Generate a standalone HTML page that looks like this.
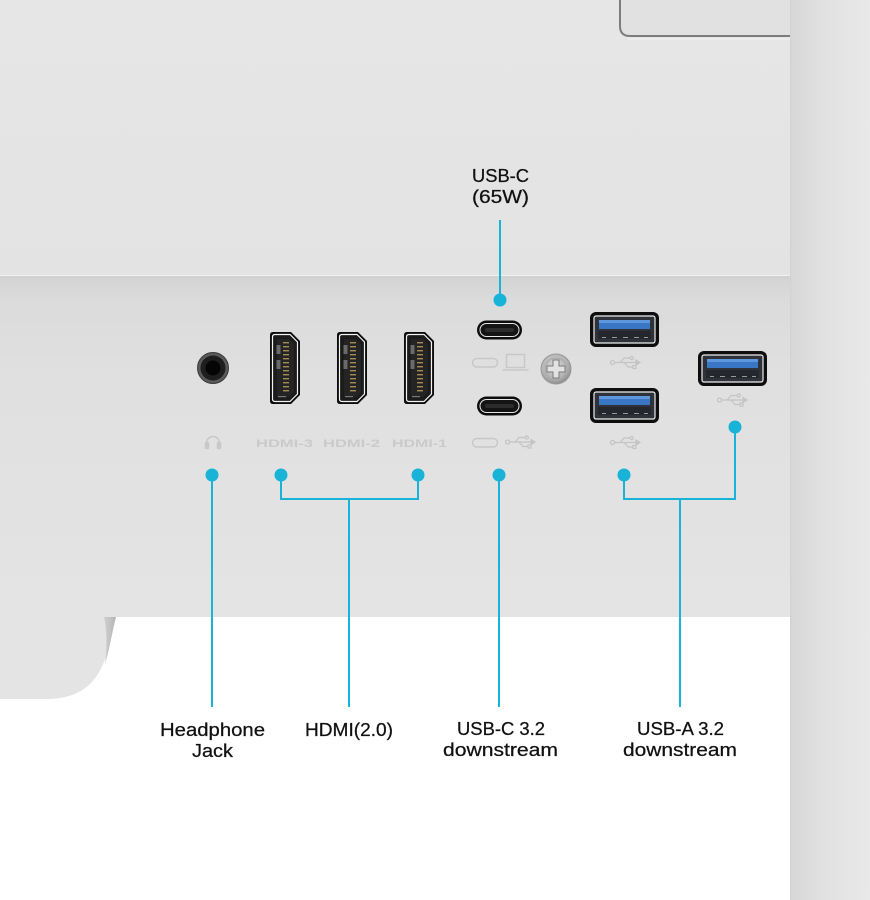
<!DOCTYPE html>
<html><head><meta charset="utf-8"><style>
html,body{margin:0;padding:0;background:#fff;}
svg{display:block;}
</style></head><body>
<svg width="870" height="900" viewBox="0 0 870 900" xmlns="http://www.w3.org/2000/svg">
<defs>
  <linearGradient id="lowp" x1="0" y1="0" x2="0" y2="1">
    <stop offset="0" stop-color="#d3d3d3"/>
    <stop offset="0.07" stop-color="#dbdbdb"/>
    <stop offset="0.3" stop-color="#e0e0e0"/>
    <stop offset="1" stop-color="#e4e4e4"/>
  </linearGradient>
  <linearGradient id="topp" x1="0" y1="0" x2="0" y2="1">
    <stop offset="0" stop-color="#e6e6e6"/>
    <stop offset="1" stop-color="#e3e3e3"/>
  </linearGradient>
  <linearGradient id="strip" x1="0" y1="0" x2="1" y2="0">
    <stop offset="0" stop-color="#d6d6d6"/>
    <stop offset="0.35" stop-color="#e0e0e0"/>
    <stop offset="1" stop-color="#e9e9e9"/>
  </linearGradient>
  <linearGradient id="standEdge" x1="0" y1="0" x2="1" y2="0">
    <stop offset="0" stop-color="#d0d0d0"/>
    <stop offset="1" stop-color="#b5b5b5"/>
  </linearGradient>
  <radialGradient id="screw" cx="0.45" cy="0.4" r="0.6">
    <stop offset="0" stop-color="#d8d8d8"/>
    <stop offset="0.7" stop-color="#b4b4b4"/>
    <stop offset="1" stop-color="#8e8e8e"/>
  </radialGradient>

  <g id="hdmi">
    <path d="M3,332 H21 L30,341 V395 L21,404 H3 Q0,404 0,401 V335 Q0,332 3,332 Z" fill="#0c0c0c"/>
    <path d="M5,334.5 H20 L27.5,342 V394 L20,401.5 H5 Q2.5,401.5 2.5,399 V337 Q2.5,334.5 5,334.5 Z" fill="#1b1b1b" stroke="#f3f3f3" stroke-width="1.2"/>
    <path d="M7,339 H19 L24,344 V392 L19,397 H7 Z" fill="#242424"/>
    <rect x="6.5" y="345" width="4" height="9" fill="#6a6a6a"/>
    <rect x="6.5" y="360" width="4" height="9" fill="#6a6a6a"/>
    <g fill="#a48b55">
      <rect x="13" y="342" width="6" height="1.4"/><rect x="13" y="346" width="6" height="1.4"/>
      <rect x="13" y="350" width="6" height="1.4"/><rect x="13" y="354" width="6" height="1.4"/>
      <rect x="13" y="358" width="6" height="1.4"/><rect x="13" y="362" width="6" height="1.4"/>
      <rect x="13" y="366" width="6" height="1.4"/><rect x="13" y="370" width="6" height="1.4"/>
      <rect x="13" y="374" width="6" height="1.4"/><rect x="13" y="378" width="6" height="1.4"/>
      <rect x="13" y="382" width="6" height="1.4"/><rect x="13" y="386" width="6" height="1.4"/>
      <rect x="13" y="390" width="6" height="1.4"/>
    </g>
    <rect x="8" y="396" width="8" height="1.2" fill="#777"/>
  </g>

  <g id="usba">
    <rect x="0" y="0" width="69" height="35" rx="6" fill="#0e0e0e"/>
    <rect x="4" y="4" width="61" height="27" rx="2" fill="#2f3239" stroke="#eeeeee" stroke-width="1.2"/>
    <rect x="9" y="8" width="51" height="9" fill="#3a76c6"/>
    <rect x="9" y="8" width="51" height="3" fill="#5d98df"/>
    <rect x="8" y="19" width="53" height="8" fill="#24272d"/>
    <g fill="#9a9a9a">
      <rect x="12" y="25" width="4" height="1"/><rect x="22" y="25" width="5" height="1"/>
      <rect x="33" y="25" width="5" height="1"/><rect x="44" y="25" width="5" height="1"/>
      <rect x="54" y="25" width="4" height="1"/>
    </g>
  </g>

  <g id="usbc">
    <rect x="0" y="0" width="45" height="19" rx="9.5" fill="#0c0c0c"/>
    <rect x="3" y="3" width="39" height="13" rx="6.5" fill="#141414" stroke="#e6e6e6" stroke-width="1"/>
    <rect x="8" y="7.5" width="29" height="4" rx="2" fill="#2c2c2c"/>
  </g>

  <g id="usbsym" fill="none" stroke="#c4c4c4" stroke-width="1.2">
    <circle cx="-12.5" cy="0" r="2"/>
    <line x1="-10.5" y1="0" x2="11" y2="0"/>
    <path d="M11,-2.5 L15,0 L11,2.5 Z" fill="#c4c4c4"/>
    <path d="M-5,0 L-1,-4.5 H5"/>
    <circle cx="6.8" cy="-4.5" r="1.6"/>
    <path d="M-1,0 L3,4.5 H8"/>
    <rect x="8" y="3" width="3" height="3"/>
  </g>
</defs>

<!-- background -->
<rect x="0" y="0" width="870" height="900" fill="#ffffff"/>
<rect x="0" y="0" width="790" height="276" fill="url(#topp)"/>
<rect x="0" y="276" width="790" height="341" fill="url(#lowp)"/>
<line x1="0" y1="275.5" x2="790" y2="275.5" stroke="#f0f0f0" stroke-width="1.2"/>
<line x1="0" y1="277" x2="790" y2="277" stroke="#cbcbcb" stroke-width="1"/>

<!-- top-right recess -->
<path d="M790,0 H620 V26 Q620,36 630,36 H790 Z" fill="#e1e1e1"/>
<path d="M620,0 V26 Q620,36 630,36 H790" fill="none" stroke="#7d7d7d" stroke-width="2"/>
<line x1="628" y1="39" x2="790" y2="39" stroke="#efefef" stroke-width="1.5"/>

<!-- right strip -->
<rect x="790" y="0" width="80" height="900" fill="url(#strip)"/>
<line x1="790.5" y1="0" x2="790.5" y2="900" stroke="#d2d2d2" stroke-width="1"/>

<!-- stand lower-left -->
<path d="M0,617 H116 C111,636 108,660 96,677 C86,691 70,699 46,699 H0 Z" fill="#e4e4e4"/>
<path d="M104,617 H116 C112,632 110,648 105,664 C107,648 107,630 104,617 Z" fill="url(#standEdge)"/>

<!-- headphone jack -->
<circle cx="213" cy="368" r="15.5" fill="#5a5a5a"/>
<circle cx="213" cy="368" r="12.5" fill="#1e1e1e"/>
<circle cx="213" cy="368" r="7.5" fill="#050505"/>
<circle cx="213" cy="368" r="15.5" fill="none" stroke="#3a3a3a" stroke-width="1"/>

<!-- HDMI ports -->
<use href="#hdmi" x="270"/>
<use href="#hdmi" x="337"/>
<use href="#hdmi" x="404"/>

<!-- USB-C ports -->
<use href="#usbc" x="477" y="320.5"/>
<use href="#usbc" x="477" y="396.5"/>

<!-- screw -->
<circle cx="556" cy="369" r="15" fill="url(#screw)" stroke="#9a9a9a" stroke-width="1"/>
<circle cx="556" cy="369" r="11" fill="none" stroke="#a8a8a8" stroke-width="1"/>
<path d="M553,360 H559 V366 H565 V372 H559 V378 H553 V372 H547 V366 H553 Z" fill="#e2e2e2" stroke="#7a7a7a" stroke-width="1"/>

<!-- USB-A ports -->
<use href="#usba" x="590" y="312"/>
<use href="#usba" x="590" y="388"/>
<use href="#usba" x="698" y="351"/>

<!-- small icons -->
<g fill="none" stroke="#c8c8c8" stroke-width="1.5">
  <path d="M206.5,448 V443 A6.5,6.5 0 0 1 219.5,443 V448"/>
  <rect x="205.5" y="442.5" width="3" height="6" rx="1" fill="#c8c8c8"/>
  <rect x="217.5" y="442.5" width="3" height="6" rx="1" fill="#c8c8c8"/>
  <rect x="472.5" y="358.5" width="25" height="8.5" rx="4.25"/>
  <rect x="506.5" y="354.5" width="18" height="13"/>
  <line x1="502.5" y1="370" x2="528.5" y2="370"/>
  <rect x="472.5" y="438.5" width="25" height="8.5" rx="4.25"/>
</g>
<use href="#usbsym" x="520" y="442"/>
<use href="#usbsym" x="625" y="362.5"/>
<use href="#usbsym" x="625" y="442.5"/>
<use href="#usbsym" x="732" y="400"/>

<g font-family="'Liberation Sans', sans-serif" font-size="11" font-weight="bold" fill="#cacaca">
  <text x="256" y="447" textLength="57" lengthAdjust="spacingAndGlyphs">HDMI-3</text>
  <text x="323" y="447" textLength="57" lengthAdjust="spacingAndGlyphs">HDMI-2</text>
  <text x="392" y="447" textLength="55" lengthAdjust="spacingAndGlyphs">HDMI-1</text>
</g>

<!-- connectors -->
<g stroke="#19b3d7" stroke-width="2" fill="none">
  <line x1="500" y1="220" x2="500" y2="300"/>
  <line x1="212" y1="475" x2="212" y2="707"/>
  <polyline points="281,475 281,499 418,499 418,475"/>
  <line x1="349" y1="499" x2="349" y2="707"/>
  <line x1="499" y1="475" x2="499" y2="707"/>
  <polyline points="624,475 624,499 735,499 735,427"/>
  <line x1="680" y1="499" x2="680" y2="707"/>
</g>
<g fill="#19b3d7">
  <circle cx="500" cy="300" r="6.5"/>
  <circle cx="212" cy="475" r="6.5"/>
  <circle cx="281" cy="475" r="6.5"/>
  <circle cx="418" cy="475" r="6.5"/>
  <circle cx="499" cy="475" r="6.5"/>
  <circle cx="624" cy="475" r="6.5"/>
  <circle cx="735" cy="427" r="6.5"/>
</g>

<!-- labels -->
<g font-family="'Liberation Sans', sans-serif" font-size="18" fill="#111" stroke="#111" stroke-width="0.25">
  <text x="472" y="182" textLength="57" lengthAdjust="spacingAndGlyphs">USB-C</text>
  <text x="472" y="203" textLength="57" lengthAdjust="spacingAndGlyphs">(65W)</text>

  <text x="160" y="736" textLength="105" lengthAdjust="spacingAndGlyphs">Headphone</text>
  <text x="192" y="757" textLength="41" lengthAdjust="spacingAndGlyphs">Jack</text>

  <text x="305" y="736" textLength="88" lengthAdjust="spacingAndGlyphs">HDMI(2.0)</text>

  <text x="457" y="735" textLength="88" lengthAdjust="spacingAndGlyphs">USB-C 3.2</text>
  <text x="443" y="756" textLength="115" lengthAdjust="spacingAndGlyphs">downstream</text>

  <text x="637" y="735" textLength="87" lengthAdjust="spacingAndGlyphs">USB-A 3.2</text>
  <text x="623" y="756" textLength="114" lengthAdjust="spacingAndGlyphs">downstream</text>
</g>
</svg>
</body></html>
